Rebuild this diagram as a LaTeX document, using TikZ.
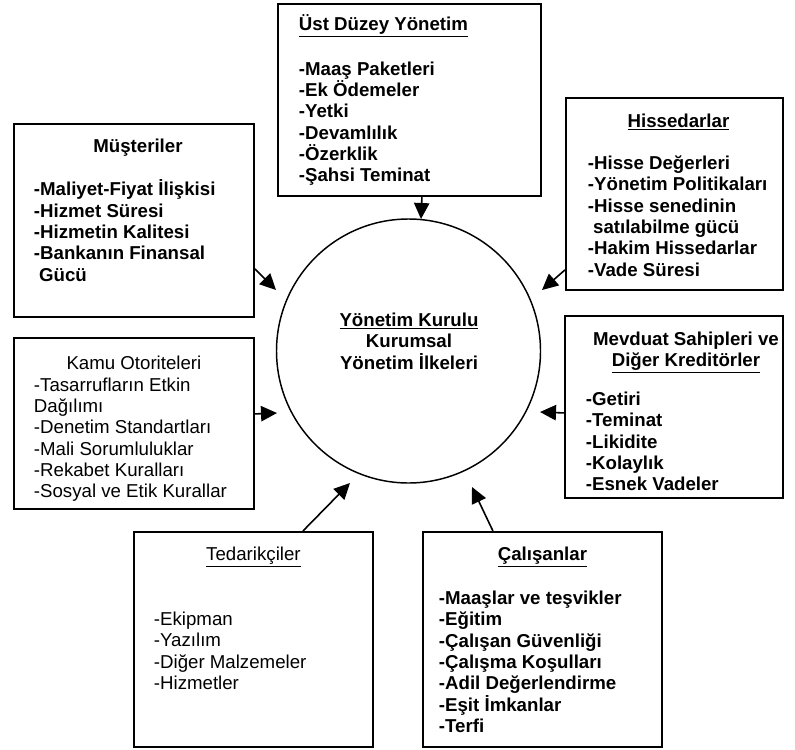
\documentclass[tikz,border=0pt]{standalone}
\usepackage{fontspec}
\setmainfont{Liberation Sans}
\usetikzlibrary{arrows.meta}

\newdimen\px \px=0.75pt
\newcommand{\kfont}{\fontsize{14}{16}\selectfont\raggedright}

\tikzset{
  kutu/.style={draw, line width=1.4pt, inner sep=0pt, anchor=north west},
  ok/.style={-{Triangle[length=12pt,width=11.5pt]}, line width=1.2pt},
}

\begin{document}
\begin{tikzpicture}[x=0.75pt, y=-0.75pt]
\useasboundingbox (0,0) rectangle (795,749);

% merkez
\node[draw, circle, minimum size=264\px, line width=1.1pt] (kurul) at (408.5,351) {};
\node[font=\bfseries\fontsize{14}{16}\selectfont, align=center] (kurulyazi) at (409,341)
  {\underline{Yönetim Kurulu}\\Kurumsal\\Yönetim İlkeleri};

% kutular
\node[kutu] (ust) at (277,3) {\parbox[c][192\px][t]{263\px}{\kfont\bfseries
  \vspace*{10.7\px}\leftskip=21\px
  \strut\underline{Üst Düzey Yönetim}\\[17.5pt]
  -Maaş Paketleri\\
  -Ek Ödemeler\\
  -Yetki\\
  -Devamlılık\\
  -Özerklik\\
  -Şahsi Teminat\par}};

\node[kutu] (mus) at (13,123) {\parbox[c][193\px][t]{240\px}{\kfont\bfseries
  \vspace*{13.7\px}
  {\centering\strut\hspace*{8\px}Müşteriler\par}
  \vspace{14.75pt}\leftskip=20\px
  -Maliyet-Fiyat İlişkisi\\
  -Hizmet Süresi\\
  -Hizmetin Kalitesi\\
  -Bankanın Finansal\\
  \hspace*{3.9pt}Gücü\par}};

\node[kutu] (his) at (565,97) {\parbox[c][192\px][t]{217\px}{\kfont\bfseries
  \vspace*{14.7\px}
  {\centering\strut\hspace*{8\px}\underline{Hissedarlar}\par}
  \vspace{15.5pt}\leftskip=22\px
  -Hisse Değerleri\\
  -Yönetim Politikaları\\
  -Hisse senedinin\\
  \hspace*{3.9pt}satılabilme gücü\\
  -Hakim Hissedarlar\\
  -Vade Süresi\par}};

\node[kutu] (kamu) at (13,337) {\parbox[c][171\px][t]{240\px}{\kfont
  \vspace*{17\px}
  {\centering\strut Kamu Otoriteleri\par}
  \leftskip=20\px
  -Tasarrufların Etkin\\
  Dağılımı\\
  -Denetim Standartları\\
  -Mali Sorumluluklar\\
  -Rekabet Kuralları\\
  -Sosyal ve Etik Kurallar\par}};

\node[kutu] (mev) at (564,315) {\parbox[c][182\px][t]{218\px}{\kfont\bfseries
  \vspace*{14.7\px}
  {\centering\strut\hspace*{24\px}Mevduat Sahipleri ve\\
   \hspace*{24\px}\underline{Diğer Kreditörler}\par}
  \vspace{13pt}\leftskip=21\px
  -Getiri\\
  -Teminat\\
  -Likidite\\
  -Kolaylık\\
  -Esnek Vadeler\par}};

\node[kutu] (ted) at (133,531) {\parbox[c][215\px][t]{239\px}{\kfont
  \vspace*{13.7\px}
  {\centering\strut\underline{Tedarikçiler}\par}
  \vspace{32.75pt}\leftskip=20\px
  -Ekipman\\
  -Yazılım\\
  -Diğer Malzemeler\\
  -Hizmetler\par}};

\node[kutu] (cal) at (422,531) {\parbox[c][215\px][t]{239\px}{\kfont\bfseries
  \vspace*{13.7\px}
  {\centering\strut\underline{Çalışanlar}\par}
  \vspace{17pt}\leftskip=16\px
  -Maaşlar ve teşvikler\\
  -Eğitim\\
  -Çalışan Güvenliği\\
  -Çalışma Koşulları\\
  -Adil Değerlendirme\\
  -Eşit İmkanlar\\
  -Terfi\par}};

% ok uclari
\coordinate (u1) at (421,219);
\coordinate (m1) at (276,290);
\coordinate (h1) at (542,290);
\coordinate (k1) at (277,413);
\coordinate (d1) at (540,412);
\coordinate (t1) at (350,483);
\coordinate (c1) at (472,487);

\draw[ok] ([xshift=12.5\px]ust.south) -- (u1);
\draw[ok] ([yshift=49\px]mus.south east) -- (m1);
\draw[ok] ([yshift=21\px]his.south west) -- (h1);
\draw[ok] ([yshift=9.5\px]kamu.east) -- (k1);
\draw[ok] ([yshift=-6\px]mev.west) -- (d1);
\draw[ok] ([xshift=49.5\px]ted.north) -- (t1);
\draw[ok] ([xshift=-49.5\px]cal.north) -- (c1);
\end{tikzpicture}
\end{document}
